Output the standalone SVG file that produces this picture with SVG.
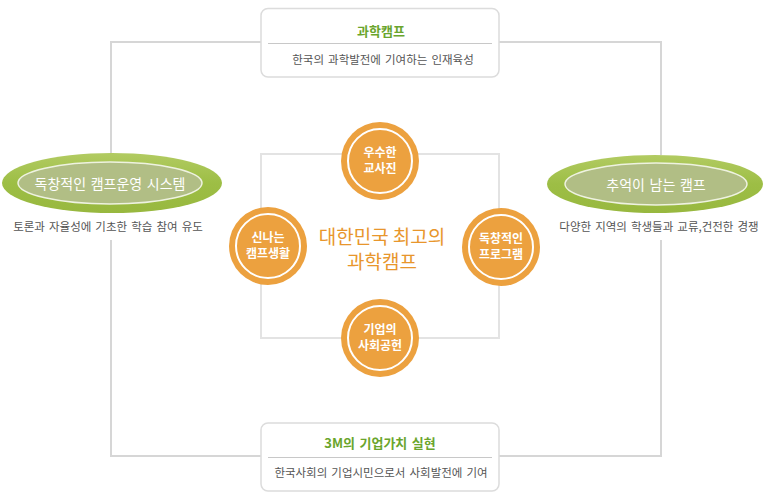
<svg xmlns="http://www.w3.org/2000/svg" width="765" height="501" viewBox="0 0 765 501">
<defs>
<style>
text{font-family:"Noto Sans CJK KR","Noto Sans",sans-serif;text-anchor:middle}
.ln{stroke:#d6d6d6;stroke-width:2;fill:none}
.inr{stroke:#e3e3e3;stroke-width:2;fill:none}
.box{fill:#fff;stroke:#dcdcdc;stroke-width:1.5}
.div{stroke:#c8c8c8;stroke-width:1}
.btitle{fill:#6aa52c;font-size:13px;font-weight:bold;word-spacing:1.5px}
.bsub{fill:#555;font-size:11.5px;word-spacing:1.5px}
.eo{fill:url(#eg)}
.ei{fill:#b1be85;stroke:#eef2e0;stroke-width:1.5}
.et{fill:#fff;font-size:14px;word-spacing:1.5px}
.esub{fill:#555;font-size:11.5px;word-spacing:1.5px}
.co{fill:#eca13f}
.ci{fill:none;stroke:#fff;stroke-width:2}
.ct{fill:#fff;font-size:12px;font-weight:bold}
.cen{fill:#e8962c;font-size:19px}
</style>
<linearGradient id="eg" x1="0" y1="0" x2="0" y2="1">
<stop offset="0" stop-color="#b2cb62"/>
<stop offset="0.5" stop-color="#9dbe45"/>
<stop offset="1" stop-color="#98b83f"/>
</linearGradient>
</defs>
<g id="connectors">
<polyline class="ln" points="111,153 111,42 261,42"/>
<polyline class="ln" points="499,42 661,42 661,155"/>
<polyline class="ln" points="111,240 111,456 261,456"/>
<polyline class="ln" points="499,456 661,456 661,240"/>
<rect class="inr" x="261" y="154" width="238" height="184"/>
</g>
<g id="box-top">
<rect class="box" x="261" y="8.5" width="238" height="68.5" rx="7"/>
<line class="div" x1="268" y1="43.5" x2="492" y2="43.5"/>
<text class="btitle" x="381" y="36">과학캠프</text>
<text class="bsub" x="383" y="64">한국의 과학발전에 기여하는 인재육성</text>
</g>
<g id="box-bottom">
<rect class="box" x="261" y="423" width="238" height="68" rx="7"/>
<line class="div" x1="268" y1="457.5" x2="492" y2="457.5"/>
<text class="btitle" x="380" y="448">3M의 기업가치 실현</text>
<text class="bsub" x="381" y="477">한국사회의 기업시민으로서 사회발전에 기여</text>
</g>
<g id="ellipse-left">
<ellipse class="eo" cx="112" cy="183" rx="110" ry="30"/>
<ellipse class="ei" cx="110" cy="183" rx="92" ry="21"/>
<text class="et" x="110" y="189">독창적인 캠프운영 시스템</text>
<text class="esub" x="108" y="231">토론과 자율성에 기초한 학습 참여 유도</text>
</g>
<g id="ellipse-right">
<ellipse class="eo" cx="655" cy="184" rx="108" ry="29"/>
<ellipse class="ei" cx="656" cy="184" rx="91" ry="21"/>
<text class="et" x="656" y="190">추억이 남는 캠프</text>
<text class="esub" x="659" y="231">다양한 지역의 학생들과 교류,건전한 경쟁</text>
</g>
<g id="circle-top">
<circle class="co" cx="380" cy="161" r="39"/>
<circle class="ci" cx="380" cy="161" r="32"/>
<text class="ct" x="380" y="157">우수한</text>
<text class="ct" x="380" y="173">교사진</text>
</g>
<g id="circle-left">
<circle class="co" cx="268" cy="246" r="39"/>
<circle class="ci" cx="268" cy="246" r="32"/>
<text class="ct" x="268" y="242">신나는</text>
<text class="ct" x="268" y="258">캠프생활</text>
</g>
<g id="circle-right">
<circle class="co" cx="501" cy="247" r="39"/>
<circle class="ci" cx="501" cy="247" r="32"/>
<text class="ct" x="501" y="243">독창적인</text>
<text class="ct" x="501" y="259">프로그램</text>
</g>
<g id="circle-bottom">
<circle class="co" cx="380" cy="338" r="39"/>
<circle class="ci" cx="380" cy="338" r="32"/>
<text class="ct" x="380" y="334">기업의</text>
<text class="ct" x="380" y="350">사회공헌</text>
</g>
<g id="center-title">
<text class="cen" x="382" y="244">대한민국 최고의</text>
<text class="cen" x="382" y="269">과학캠프</text>
</g>
</svg>
